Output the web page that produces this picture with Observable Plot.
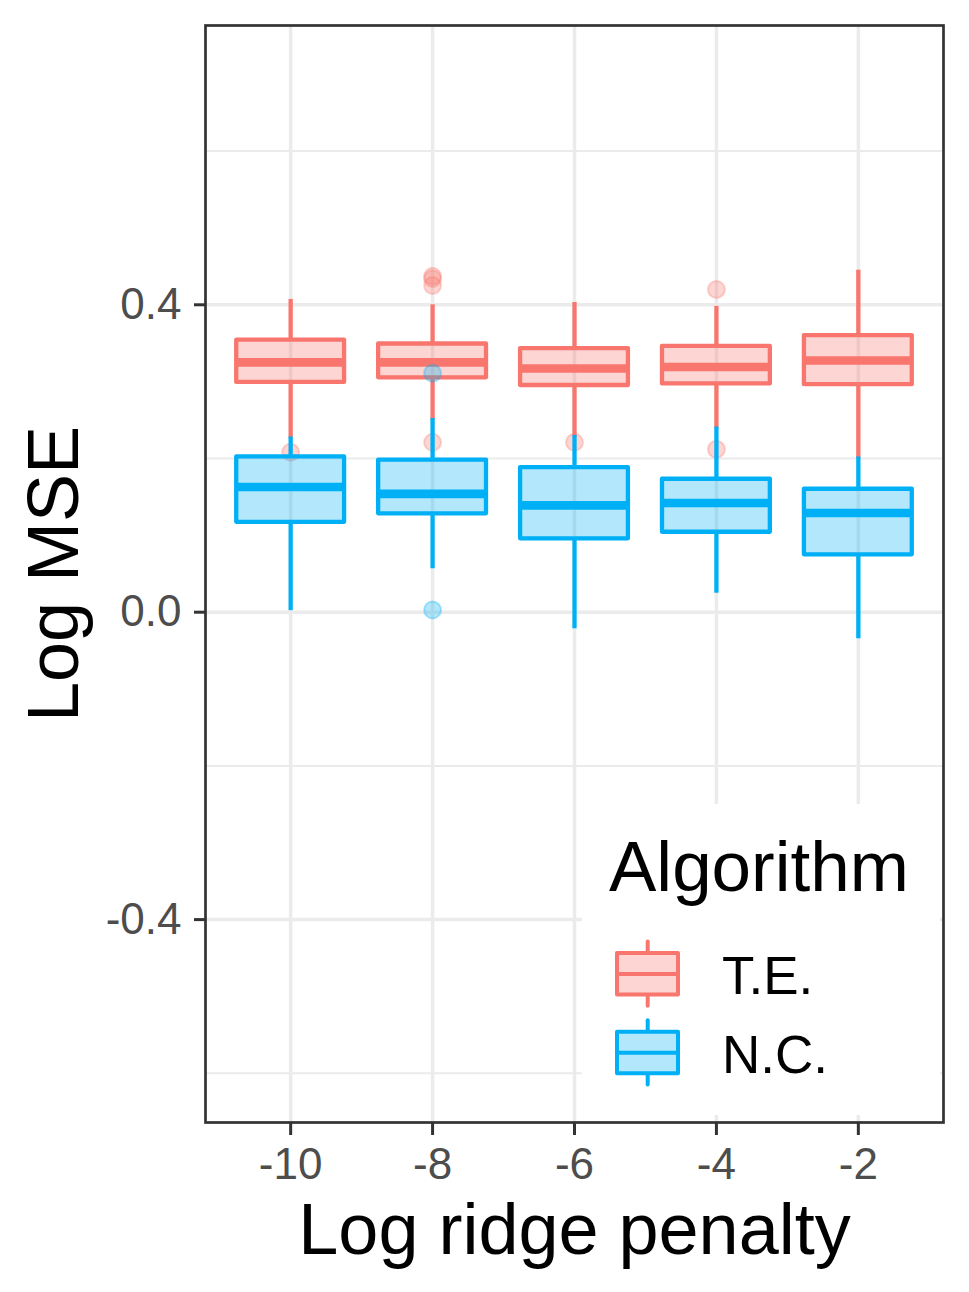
<!DOCTYPE html>
<html><head><meta charset="utf-8">
<script src="https://cdn.jsdelivr.net/npm/d3@7"></script>
<script src="https://cdn.jsdelivr.net/npm/@observablehq/plot@0.6"></script>
<style>
html,body{margin:0;padding:0;background:#fff;}
#wrap{position:relative;width:969px;height:1292px;}
#legend{position:absolute;left:582px;top:804px;}
</style></head><body><div id="wrap"></div>
<script>
// ---- data ----
const penalties = [-10, -8, -6, -4, -2];
const algorithms = ["T.E.", "N.C."];
const colors = ["#F8766D", "#00B0F6"];

const teLower  = [0.226, 0.250, 0.228, 0.239, 0.200];
const teQ1     = [0.299, 0.305, 0.295, 0.297, 0.296];
const teMedian = [0.325, 0.325, 0.317, 0.319, 0.3275];
const teQ3     = [0.354, 0.349, 0.343, 0.346, 0.360];
const teUpper  = [0.407, 0.400, 0.403, 0.398, 0.445];
const teOutlierX = [-10, -8, -8, -8, -8, -6, -4, -4];
const teOutlierY = [0.208, 0.437, 0.434, 0.425, 0.221, 0.221, 0.420, 0.212];

const ncLower  = [0.002, 0.0565, -0.0216, 0.0247, -0.0346];
const ncQ1     = [0.117, 0.128, 0.0955, 0.104, 0.0747];
const ncMedian = [0.163, 0.154, 0.139, 0.142, 0.129];
const ncQ3     = [0.202, 0.198, 0.188, 0.173, 0.160];
const ncUpper  = [0.228, 0.252, 0.230, 0.241, 0.202];
const ncOutlierX = [-8, -8];
const ncOutlierY = [0.311, 0.003];

const yMajor = [0.4, 0.0, -0.4];
const yMinor = [0.6, 0.2, -0.2, -0.6];

// ---- tables ----
function stats(lower, q1, med, q3, upper) {
  return penalties.map((x, i) => ({x, lower: lower[i], q1: q1[i], median: med[i], q3: q3[i], upper: upper[i]}));
}
const teStats = stats(teLower, teQ1, teMedian, teQ3, teUpper);
const ncStats = stats(ncLower, ncQ1, ncMedian, ncQ3, ncUpper);
const teOut = teOutlierX.map((x, i) => ({x, y: teOutlierY[i]}));
const ncOut = ncOutlierX.map((x, i) => ({x, y: ncOutlierY[i]}));

const HALF = 0.76, LW = 4.3;
function boxMarks(rows, outl, color) {
  return [
    Plot.ruleX(rows, {x: "x", y1: "q3", y2: "upper", stroke: color, strokeWidth: LW}),
    Plot.ruleX(rows, {x: "x", y1: "q1", y2: "lower", stroke: color, strokeWidth: LW}),
    Plot.rect(rows, {x1: d => d.x - HALF, x2: d => d.x + HALF, y1: "q1", y2: "q3",
      fill: color, fillOpacity: 0.3, stroke: color, strokeWidth: LW, strokeLinejoin: "round"}),
    Plot.ruleY(rows, {y: "median", x1: d => d.x - HALF, x2: d => d.x + HALF, stroke: color, strokeWidth: 2 * LW}),
    Plot.dot(outl, {x: "x", y: "y", r: 8.5, fill: color, fillOpacity: 0.3, stroke: color, strokeOpacity: 0.3, strokeWidth: 2})
  ];
}

const font = "'Liberation Sans', Arial, Helvetica, sans-serif";

const chart = Plot.plot({
  width: 969, height: 1292,
  marginLeft: 205, marginRight: 26, marginTop: 25, marginBottom: 170,
  style: {fontFamily: font, background: "white", overflow: "visible"},
  x: {type: "linear", domain: [-11.2, -0.8], axis: null},
  y: {type: "linear", domain: [-0.664, 0.7634], axis: null},
  marks: [
    Plot.gridY(yMinor, {stroke: "#EBEBEB", strokeOpacity: 1, strokeWidth: 2}),
    Plot.gridY(yMajor, {stroke: "#EBEBEB", strokeOpacity: 1, strokeWidth: 3.5}),
    Plot.gridX(penalties, {stroke: "#EBEBEB", strokeOpacity: 1, strokeWidth: 3.5}),
    ...boxMarks(teStats, teOut, colors[0]),
    ...boxMarks(ncStats, ncOut, colors[1]),
    Plot.frame({stroke: "#333333", strokeWidth: 2.7}),
    Plot.axisY(yMajor, {tickSize: 11, color: "#333333", strokeWidth: 3, tickFormat: () => "", label: null}),
    Plot.axisY(yMajor, {tickSize: 0, tickPadding: 24, color: "#4D4D4D", fontSize: 44, tickFormat: d => d.toFixed(1), label: null}),
    Plot.axisX(penalties, {tickSize: 13, color: "#333333", strokeWidth: 3, tickFormat: () => "", label: null}),
    Plot.axisX(penalties, {tickSize: 0, tickPadding: 25, color: "#4D4D4D", fontSize: 44, tickFormat: d => String(d), label: null}),
    Plot.text(["Log ridge penalty"], {frameAnchor: "bottom", dy: 131, lineAnchor: "bottom", textAnchor: "middle", fontSize: 72, fill: "black"}),
    Plot.text(["Log MSE"], {frameAnchor: "left", dx: -128, rotate: -90, lineAnchor: "bottom", textAnchor: "middle", fontSize: 72, fill: "black"})
  ]
});
const wrap = document.getElementById("wrap");
wrap.appendChild(chart);

// ---- legend (inside panel, bottom-right) ----
const lg = d3.select(wrap).append("svg").attr("id", "legend")
  .attr("width", 358).attr("height", 311).style("font-family", font);
lg.append("rect").attr("width", 358).attr("height", 311).attr("fill", "white");
lg.append("text").attr("x", 27).attr("y", 87).attr("font-size", 71).attr("fill", "black").text("Algorithm");
algorithms.forEach((name, i) => {
  const c = colors[i];
  const top = 149 + i * 78.7;
  const g = lg.append("g");
  g.append("line").attr("x1", 65.7).attr("x2", 65.7).attr("y1", top - 11.5).attr("y2", top + 52.7)
    .attr("stroke", c).attr("stroke-width", 4).attr("stroke-linecap", "round");
  g.append("rect").attr("x", 35).attr("y", top).attr("width", 61).attr("height", 41.5)
    .attr("fill", d3.interpolateRgb("white", c)(0.3)).attr("stroke", c).attr("stroke-width", 4).attr("stroke-linejoin", "round");
  g.append("line").attr("x1", 35).attr("x2", 96).attr("y1", top + 21).attr("y2", top + 21)
    .attr("stroke", c).attr("stroke-width", 4);
  lg.append("text").attr("x", 140).attr("y", top + 41).attr("font-size", 53).attr("fill", "black").text(name);
});
</script>
</body></html>
